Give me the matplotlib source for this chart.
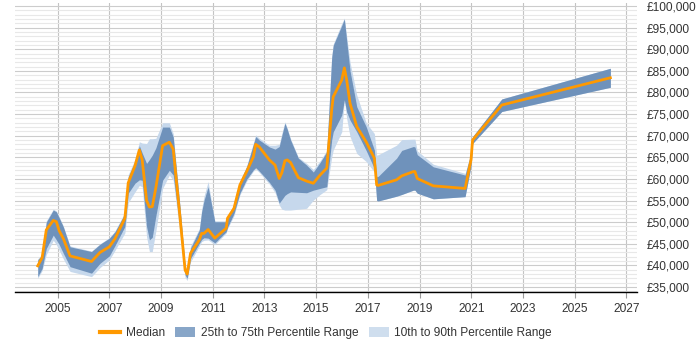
import matplotlib
matplotlib.use("Agg")
import matplotlib.pyplot as plt
from matplotlib.ticker import MultipleLocator, FuncFormatter
from matplotlib.patches import Patch
from matplotlib.lines import Line2D

plt.rcParams['font.family'] = ['Liberation Sans', 'DejaVu Sans']

years = [2004.23, 2004.40, 2004.56, 2004.83, 2004.95, 2005.06, 2005.22, 2005.48, 2006.31, 2006.64,
         2007.00, 2007.22, 2007.60, 2007.73, 2007.99, 2008.16, 2008.27, 2008.44, 2008.55, 2008.66,
         2008.80, 2009.06, 2009.32, 2009.47, 2009.73, 2009.93, 2010.01, 2010.14, 2010.48, 2010.57,
         2010.66, 2010.82, 2011.08, 2011.52, 2011.57, 2011.82, 2012.05, 2012.31, 2012.57, 2012.66,
         2012.80, 2013.19, 2013.41, 2013.57, 2013.67, 2013.79, 2013.88, 2014.01, 2014.31, 2014.63,
         2014.89, 2015.15, 2015.41, 2015.60, 2015.66, 2015.99, 2016.09, 2016.18, 2016.31, 2016.57,
         2016.94, 2017.25, 2017.34, 2017.40, 2018.11, 2018.31, 2018.76, 2018.82, 2018.91, 2019.53,
         2020.76, 2020.99, 2021.05, 2022.18, 2026.38]

p10 = [37000, 38800, 42500, 45800, 44800, 43500, 41500, 38600, 37400, 39500,
       41300, 43500, 47500, 54500, 57000, 58500, 58200, 46600, 43200, 43200,
       48000, 57800, 60900, 59700, 47500, 37200, 36500, 40800, 44500, 45500,
       45800, 45900, 44800, 47500, 48500, 51500, 56300, 59500, 61800, 62300,
       61500, 58800, 56800, 54000, 53000, 52800, 52800, 52800, 53000, 53200,
       55100, 56400, 57500, 65000, 66700, 70900, 78300, 74000, 69800, 65900,
       64000, 61600, 55000, 54900, 56000, 56400, 57400, 57400, 56700, 55400,
       55900, 63000, 68200, 75600, 81200]

p25 = [37400, 39300, 43900, 47000, 45900, 44800, 42800, 39700, 38200, 40500,
       42200, 44600, 49000, 56700, 59000, 59800, 59700, 49000, 45900, 46500,
       51500, 59700, 62000, 60900, 48900, 37800, 37000, 41600, 45100, 46000,
       46400, 46300, 45200, 47800, 48800, 52000, 56700, 59900, 62100, 62600,
       61800, 59200, 57400, 54400, 55200, 56200, 56600, 57000, 56900, 56800,
       57400, 57800, 58200, 69000, 70900, 74800, 78300, 75500, 73600, 70900,
       66500, 62400, 55000, 54900, 56000, 56400, 57400, 57400, 56700, 55400,
       55900, 63000, 68200, 75600, 81200]

median = [39900, 41800, 48200, 50400, 50100, 48000, 46200, 42200, 40900, 43000,
          44300, 46200, 50900, 59100, 63000, 66700, 64400, 55000, 53500, 53600,
          58000, 67700, 68500, 66900, 51300, 38900, 38000, 42800, 45900, 47400,
          47400, 48300, 46300, 48600, 50900, 53200, 58600, 61700, 65100, 68000,
          67400, 64400, 63200, 60100, 61400, 64200, 64400, 63800, 60300, 59500,
          59000, 60900, 62500, 76000, 79000, 82900, 85700, 82900, 77500, 72100,
          68500, 64800, 58600, 58500, 59800, 60700, 61700, 61700, 60100, 58400,
          57800, 64400, 69000, 77100, 83400]

p75 = [41300, 42400, 50000, 52800, 52400, 51000, 48900, 44300, 43200, 44900,
       46300, 47800, 52000, 60500, 64000, 67700, 66000, 63600, 64500, 65500,
       67200, 72000, 72000, 69700, 53600, 39700, 38500, 44000, 48200, 52400,
       55000, 58200, 50100, 50100, 51000, 53600, 59400, 62800, 68000, 69800,
       69000, 67400, 66900, 67500, 70000, 72900, 71500, 69000, 64800, 63200,
       61600, 63800, 66300, 88000, 90900, 95500, 97000, 92000, 85000, 76700,
       72000, 66700, 60500, 60600, 64800, 66600, 67500, 67400, 65600, 62800,
       60900, 66000, 69800, 78500, 85600]

p90 = [41500, 42600, 50300, 53000, 52600, 51200, 49100, 44500, 43300, 45000,
       46400, 48000, 52300, 61000, 64500, 68600, 68300, 68200, 69300, 69300,
       69400, 73000, 73000, 70500, 54000, 40000, 38700, 44500, 48500, 53000,
       56000, 59400, 50300, 50300, 51200, 53800, 59600, 63000, 68300, 70200,
       69400, 67800, 67800, 68000, 70500, 73200, 71800, 69300, 65000, 63600,
       62200, 64200, 66600, 88500, 91200, 96000, 97200, 93000, 87000, 79400,
       72900, 70500, 65500, 65600, 67800, 69100, 69200, 69200, 66500, 63400,
       61300, 66000, 69800, 78500, 85600]

xticks = [2005, 2007, 2009, 2011, 2013, 2015, 2017, 2019, 2021, 2023, 2025, 2027]

dark = "#6f92bb"
light = "#c6d8ec"
orange = "#ff9900"
txt = "#333333"
fs = 8.6

fig = plt.figure(figsize=(7, 3.5), dpi=100)
ax = fig.add_axes([15/700, 1-292/350, (637-15)/700, (292-3)/350])

ax.fill_between(years, p10, p90, color=light, lw=0, zorder=2)
ax.fill_between(years, p25, p75, color=dark, lw=0, zorder=3)
ax.plot(years, median, color=orange, lw=2, zorder=4)

ax.set_xlim(2003.35, 2027.41)
ax.set_ylim(33843, 100700)

ax.yaxis.set_major_locator(MultipleLocator(5000))
ax.yaxis.set_minor_locator(MultipleLocator(1000))
ax.set_xticks(xticks)
ax.grid(which="major", axis="y", color="#cccccc", lw=0.8, zorder=0)
ax.grid(which="minor", axis="y", color="#e8e8e8", lw=0.8, zorder=0)
ax.grid(which="major", axis="x", color="#c4c4c4", lw=0.8, zorder=0)

ax.yaxis.tick_right()
ax.yaxis.set_major_formatter(FuncFormatter(lambda v, p: "£{:,.0f}".format(v)))
ax.tick_params(axis="y", which="both", length=0, pad=7, labelsize=fs, labelcolor=txt)
ax.tick_params(axis="x", length=4, width=0.8, color="#999999", pad=4, labelsize=fs, labelcolor=txt)

for s in ["top", "right", "left"]:
    ax.spines[s].set_visible(False)
ax.spines["bottom"].set_color("#000000")
ax.spines["bottom"].set_linewidth(1)

handles = [Line2D([0], [0], color=orange, lw=3),
           Patch(facecolor="#88a6c8", edgecolor="none"),
           Patch(facecolor="#cfdeee", edgecolor="none")]
labels = ["Median", "25th to 75th Percentile Range", "10th to 90th Percentile Range"]
fig.legend(handles, labels, loc="center", bbox_to_anchor=(326/700, 1-333/350), ncol=3,
           frameon=False, fontsize=fs, labelcolor=txt, handlelength=1.7, handleheight=0.9,
           columnspacing=0.85, handletextpad=0.45)

fig.savefig("out.png", dpi=100)
